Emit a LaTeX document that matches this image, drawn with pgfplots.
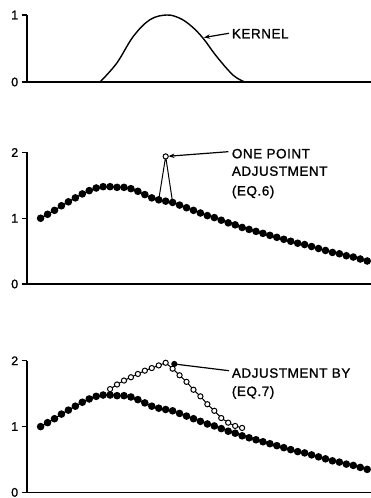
\documentclass[border=0pt]{standalone}
\usepackage{fontspec}
\setmainfont{Liberation Sans}
\usepackage{pgfplots}
\usepackage{pgfplotstable}
\pgfplotsset{compat=1.18}
\usetikzlibrary{arrows.meta}

% lettering used for all labels
\newcommand\lab{\fontsize{13.5}{16}\selectfont\addfontfeature{LetterSpace=4,FakeBold=1.2}}
\newcommand\tlab{\fontsize{12.5}{15}\selectfont\addfontfeature{FakeBold=1.2}}

% smoothed series, one value per sample
\pgfplotstableread{
i v
0 1.00
1 1.06
2 1.12
3 1.19
4 1.25
5 1.31
6 1.37
7 1.42
8 1.46
9 1.48
10 1.48
11 1.47
12 1.47
13 1.45
14 1.41
15 1.36
16 1.31
17 1.28
18 1.26
19 1.24
20 1.20
21 1.16
22 1.12
23 1.08
24 1.04
25 1.01
26 0.97
27 0.93
28 0.90
29 0.86
30 0.83
31 0.80
32 0.77
33 0.74
34 0.71
35 0.68
36 0.65
37 0.62
38 0.60
39 0.57
40 0.54
41 0.51
42 0.48
43 0.46
44 0.43
45 0.41
46 0.38
47 0.35
}\basedata

% samples after the adjustment of Eq. 7
\pgfplotstableread{
i v
10 1.57
11 1.64
12 1.70
13 1.75
14 1.80
15 1.85
16 1.89
17 1.93
18 1.97
19 1.88
20 1.78
21 1.68
22 1.56
23 1.46
24 1.34
25 1.24
26 1.13
27 1.06
28 1.01
29 0.98
}\adjdata

\pgfplotsset{
  panel/.style={
    scale only axis, width=344.3pt,
    xmin=-2, xmax=47.55, ymin=0,
    enlargelimits=false, clip=false,
    axis x line=bottom, axis y line=left,
    axis line style={-, line width=1.7pt},
    xtick=\empty,
    tick align=outside, major tick length=5pt,
    ytick style={line width=1.3pt, black},
    yticklabel style={font=\tlab, /pgf/number format/assume math mode=true},
  },
  dots/.style={black, line width=1.3pt, mark=*, mark size=3.1pt},
  rings/.style={black, line width=1pt, mark=*, mark size=2.6pt,
    mark options={fill=white, line width=1pt}},
}

\begin{document}
\begin{tikzpicture}[x=1pt,y=1pt]
\useasboundingbox (0,0) rectangle (371,498);

% kernel
\begin{axis}[panel, at={(26.7pt,416pt)}, anchor=south west,
  height=67pt, ymax=1, ytick={0,1}]
\addplot[black, line width=1.4pt, smooth, tension=0.6] coordinates {
  (8.55,0) (10.95,0.28) (13.34,0.68) (15.74,0.93) (18.15,1.0)
  (20.06,0.95) (21.74,0.83) (23.41,0.65) (25.34,0.38) (27.73,0.10) (29.41,0)};
\end{axis}
\node[anchor=base west, font=\lab, inner sep=0] at (231.7,459.7) {KERNEL};
\draw[line width=1.2pt, -{Stealth[length=6pt,width=4.5pt]}] (229,464.7) -- (204,460.5);

% one point adjustment
\begin{axis}[panel, at={(26.7pt,214pt)}, anchor=south west,
  height=131.5pt, ymax=2, ytick={0,1,2}]
\addplot[dots] table[x=i, y=v] {\basedata};
\addplot[rings, mark indices={2}] coordinates {(17,1.28) (18,1.94) (19,1.24)};
\coordinate (spk) at (axis cs:18,1.94);
\end{axis}
\draw[line width=1.2pt, -{Stealth[length=6pt,width=4.5pt]}, shorten >=2.8pt] (228.3,346.3) -- (spk);
\node[anchor=base west, font=\lab, inner sep=0] at (231.7,339.7) {ONE POINT};
\node[anchor=base west, font=\lab, inner sep=0] at (231.7,322.2) {ADJUSTMENT};
\node[anchor=base west, font=\lab, inner sep=0] at (231.7,302.5) {(EQ.6)};

% adjustment by Eq. 7
\begin{axis}[panel, at={(26.7pt,5.6pt)}, anchor=south west,
  height=131.6pt, ymax=2, ytick={0,1,2}]
\addplot[dots] table[x=i, y=v] {\basedata};
\addplot[rings] table[x=i, y=v] {\adjdata};
\end{axis}
\draw[line width=1.2pt] (229,127.3) -- (174.3,134);
\fill (174.3,134) circle (3.1pt);
\node[anchor=base west, font=\lab, inner sep=0] at (231.7,120.3) {ADJUSTMENT BY};
\node[anchor=base west, font=\lab, inner sep=0] at (231.7,102) {(EQ.7)};
\end{tikzpicture}
\end{document}
